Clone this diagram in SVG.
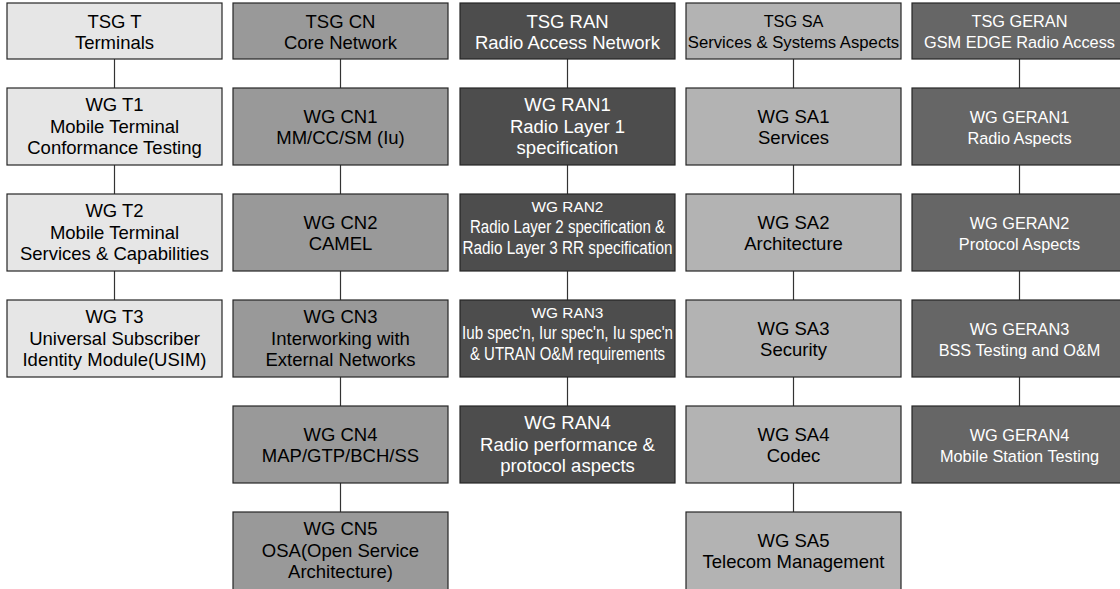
<svg xmlns="http://www.w3.org/2000/svg" width="1120" height="589" viewBox="0 0 1120 589">
<style>
rect{stroke:#262626;stroke-width:1.2}
.t{fill:#e6e6e6}.cn{fill:#999999}.ran{fill:#4d4d4d}.sa{fill:#b3b3b3}.ge{fill:#666666}
text{font-family:"Liberation Sans",Arial,sans-serif;font-size:18.5px;text-anchor:middle;fill:#000}
.w{fill:#fff}
.s{font-size:16.3px}
.r{font-size:15.4px}
.rc{font-size:17.5px}
.conn line{stroke:#333;stroke-width:1.2}
</style>
<rect width="1120" height="589" fill="#fff" style="stroke:none"/>
<g class="conn" id="connectors">
<line x1="114.5" y1="59" x2="114.5" y2="88"/>
<line x1="114.5" y1="165" x2="114.5" y2="194"/>
<line x1="114.5" y1="271" x2="114.5" y2="300"/>
<line x1="340.5" y1="59" x2="340.5" y2="88"/>
<line x1="340.5" y1="165" x2="340.5" y2="194"/>
<line x1="340.5" y1="271" x2="340.5" y2="300"/>
<line x1="340.5" y1="377" x2="340.5" y2="406"/>
<line x1="340.5" y1="483" x2="340.5" y2="512"/>
<line x1="567.5" y1="59" x2="567.5" y2="88"/>
<line x1="567.5" y1="165" x2="567.5" y2="194"/>
<line x1="567.5" y1="271" x2="567.5" y2="300"/>
<line x1="567.5" y1="377" x2="567.5" y2="406"/>
<line x1="793.5" y1="59" x2="793.5" y2="88"/>
<line x1="793.5" y1="165" x2="793.5" y2="194"/>
<line x1="793.5" y1="271" x2="793.5" y2="300"/>
<line x1="793.5" y1="377" x2="793.5" y2="406"/>
<line x1="793.5" y1="483" x2="793.5" y2="512"/>
<line x1="1019.5" y1="59" x2="1019.5" y2="88"/>
<line x1="1019.5" y1="165" x2="1019.5" y2="194"/>
<line x1="1019.5" y1="271" x2="1019.5" y2="300"/>
<line x1="1019.5" y1="377" x2="1019.5" y2="406"/>
</g>

<g id="tsg-t"><rect class="t" x="7" y="3" width="215" height="56"/>
<text x="114.5" y="27.5">TSG T</text><text x="114.5" y="48.5">Terminals</text></g>
<g id="wg-t1"><rect class="t" x="7" y="88" width="215" height="77"/>
<text x="114.5" y="111">WG T1</text><text x="114.5" y="132.5">Mobile Terminal</text><text x="114.5" y="154">Conformance Testing</text></g>
<g id="wg-t2"><rect class="t" x="7" y="194" width="215" height="77"/>
<text x="114.5" y="217">WG T2</text><text x="114.5" y="238.5">Mobile Terminal</text><text x="114.5" y="260">Services &amp; Capabilities</text></g>
<g id="wg-t3"><rect class="t" x="7" y="300" width="215" height="77"/>
<text x="114.5" y="323">WG T3</text><text x="114.5" y="344.5">Universal Subscriber</text><text x="114.5" y="366">Identity Module(USIM)</text></g>

<g id="tsg-cn"><rect class="cn" x="233" y="3" width="215" height="56"/>
<text x="340.5" y="27.5">TSG CN</text><text x="340.5" y="48.5">Core Network</text></g>
<g id="wg-cn1"><rect class="cn" x="233" y="88" width="215" height="77"/>
<text x="340.5" y="123">WG CN1</text><text x="340.5" y="144">MM/CC/SM (Iu)</text></g>
<g id="wg-cn2"><rect class="cn" x="233" y="194" width="215" height="77"/>
<text x="340.5" y="229">WG CN2</text><text x="340.5" y="250">CAMEL</text></g>
<g id="wg-cn3"><rect class="cn" x="233" y="300" width="215" height="77"/>
<text x="340.5" y="323">WG CN3</text><text x="340.5" y="344.5">Interworking with</text><text x="340.5" y="366">External Networks</text></g>
<g id="wg-cn4"><rect class="cn" x="233" y="406" width="215" height="77"/>
<text x="340.5" y="441">WG CN4</text><text x="340.5" y="462">MAP/GTP/BCH/SS</text></g>
<g id="wg-cn5"><rect class="cn" x="233" y="512" width="215" height="82"/>
<text x="340.5" y="535">WG CN5</text><text x="340.5" y="556.5">OSA(Open Service</text><text x="340.5" y="578">Architecture)</text></g>

<g id="tsg-ran"><rect class="ran" x="460" y="3" width="215" height="56"/>
<text class="w" x="567.5" y="27.5">TSG RAN</text><text class="w" x="567.5" y="48.5">Radio Access Network</text></g>
<g id="wg-ran1"><rect class="ran" x="460" y="88" width="215" height="77"/>
<text class="w" x="567.5" y="111">WG RAN1</text><text class="w" x="567.5" y="132.5">Radio Layer 1</text><text class="w" x="567.5" y="154">specification</text></g>
<g id="wg-ran2"><rect class="ran" x="460" y="194" width="215" height="77"/>
<text class="w r" x="567.5" y="212">WG RAN2</text><text class="w rc" x="567.5" y="233" textLength="195" lengthAdjust="spacingAndGlyphs">Radio Layer 2 specification &amp;</text><text class="w rc" x="567.5" y="254" textLength="210" lengthAdjust="spacingAndGlyphs">Radio Layer 3 RR specification</text></g>
<g id="wg-ran3"><rect class="ran" x="460" y="300" width="215" height="77"/>
<text class="w r" x="567.5" y="318">WG RAN3</text><text class="w rc" x="567.5" y="339" textLength="211" lengthAdjust="spacingAndGlyphs">Iub spec'n, Iur spec'n, Iu spec'n</text><text class="w rc" x="567.5" y="360" textLength="195" lengthAdjust="spacingAndGlyphs">&amp; UTRAN O&amp;M requirements</text></g>
<g id="wg-ran4"><rect class="ran" x="460" y="406" width="215" height="77"/>
<text class="w" x="567.5" y="429">WG RAN4</text><text class="w" x="567.5" y="450.5">Radio performance &amp;</text><text class="w" x="567.5" y="472">protocol aspects</text></g>

<g id="tsg-sa"><rect class="sa" x="686" y="3" width="215" height="56"/>
<text class="s" x="793.5" y="27">TSG SA</text><text x="793.5" y="48" style="font-size:16.7px">Services &amp; Systems Aspects</text></g>
<g id="wg-sa1"><rect class="sa" x="686" y="88" width="215" height="77"/>
<text x="793.5" y="123">WG SA1</text><text x="793.5" y="144">Services</text></g>
<g id="wg-sa2"><rect class="sa" x="686" y="194" width="215" height="77"/>
<text x="793.5" y="229">WG SA2</text><text x="793.5" y="250">Architecture</text></g>
<g id="wg-sa3"><rect class="sa" x="686" y="300" width="215" height="77"/>
<text x="793.5" y="335">WG SA3</text><text x="793.5" y="356">Security</text></g>
<g id="wg-sa4"><rect class="sa" x="686" y="406" width="215" height="77"/>
<text x="793.5" y="441">WG SA4</text><text x="793.5" y="462">Codec</text></g>
<g id="wg-sa5"><rect class="sa" x="686" y="512" width="215" height="82"/>
<text x="793.5" y="547">WG SA5</text><text x="793.5" y="568">Telecom Management</text></g>

<g id="tsg-geran"><rect class="ge" x="912" y="3" width="215" height="56"/>
<text class="w s" x="1019.5" y="27">TSG GERAN</text><text class="w s" x="1019.5" y="48">GSM EDGE Radio Access</text></g>
<g id="wg-geran1"><rect class="ge" x="912" y="88" width="215" height="77"/>
<text class="w s" x="1019.5" y="122.5">WG GERAN1</text><text class="w s" x="1019.5" y="143.5">Radio Aspects</text></g>
<g id="wg-geran2"><rect class="ge" x="912" y="194" width="215" height="77"/>
<text class="w s" x="1019.5" y="228.5">WG GERAN2</text><text class="w s" x="1019.5" y="249.5">Protocol Aspects</text></g>
<g id="wg-geran3"><rect class="ge" x="912" y="300" width="215" height="77"/>
<text class="w s" x="1019.5" y="334.5">WG GERAN3</text><text class="w s" x="1019.5" y="355.5">BSS Testing and O&amp;M</text></g>
<g id="wg-geran4"><rect class="ge" x="912" y="406" width="215" height="77"/>
<text class="w s" x="1019.5" y="440.5">WG GERAN4</text><text class="w s" x="1019.5" y="461.5">Mobile Station Testing</text></g>
</svg>
